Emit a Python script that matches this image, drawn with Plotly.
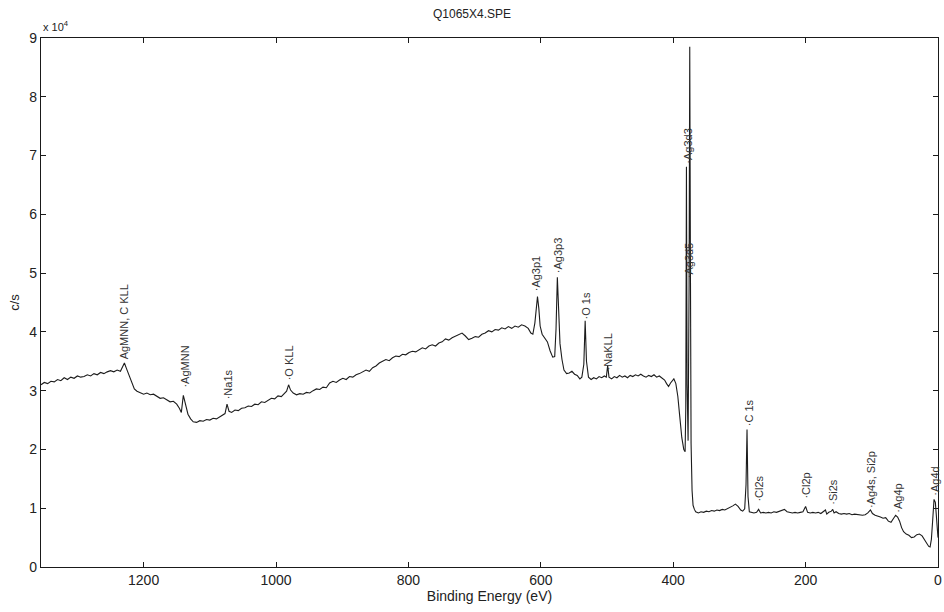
import plotly.graph_objects as go

# ---- XPS survey spectrum, binding energy (eV) vs counts per second ----

# High binding-energy region: Auger features, Na 1s, O KLL
be_auger = [
    1355, 1350, 1345, 1340, 1335, 1330, 1325, 1320, 1315, 1310,
    1305, 1300, 1295, 1290, 1285, 1280, 1275, 1270, 1265, 1260,
    1255, 1250, 1245, 1240, 1235, 1232, 1229, 1226, 1222, 1218,
    1214, 1210, 1205, 1200, 1195, 1190, 1185, 1180, 1175, 1170,
    1165, 1160, 1155, 1150, 1146, 1143, 1140, 1137, 1133, 1129,
    1125, 1120, 1115, 1110, 1105, 1100, 1095, 1090, 1085, 1080,
    1077, 1074, 1071, 1067, 1062, 1057, 1052, 1047, 1042, 1037,
    1032, 1027, 1022, 1017, 1012, 1007, 1002, 997, 992, 987,
    984, 981, 978, 974, 969, 964, 959, 954, 949, 944,
    939, 934, 929, 924,
]
cps_auger = [
    31000, 31400, 31200, 31600, 31500, 31900, 31700, 32200, 31900, 32300,
    32100, 32500, 32300, 32400, 32700, 32500, 32900, 32700, 33100, 32900,
    33200, 33400, 33200, 33500, 33300, 33900, 34700, 33800, 32600, 31300,
    30300, 29900, 29700, 29400, 29600, 29300, 29400, 29000, 28700, 28800,
    28400, 28100, 28200, 27700, 27000, 26300, 29200, 27600, 26000, 25200,
    24700, 24600, 24900, 24800, 25100, 25000, 25300, 25200, 25600, 25900,
    26100, 27700, 26500, 26300, 26700, 26600, 27000, 27100, 27400, 27300,
    27700, 27600, 28100, 28000, 28400, 28700, 28600, 29100, 29000, 29500,
    29900, 31000, 30100, 29600, 29300, 29500, 29400, 29700, 29600, 30000,
    30300, 30200, 30600, 30500,
]

# Rising background, Ag 3p doublet, O 1s, Na KLL
be_ag3p = [
    919, 914, 909, 904, 899, 894, 889, 884, 879, 874,
    869, 864, 859, 854, 849, 844, 839, 834, 829, 824,
    819, 814, 809, 804, 799, 794, 789, 784, 779, 774,
    769, 764, 759, 754, 749, 744, 739, 734, 729, 724,
    719, 714, 709, 704, 699, 694, 689, 684, 679, 674,
    669, 664, 659, 654, 649, 644, 639, 634, 629, 624,
    619, 615, 612, 609, 607, 605, 603, 601, 598, 594,
    590, 586, 582, 579, 577, 575, 573, 571, 568, 565,
    561, 557, 553, 549, 545, 541, 538, 535, 533, 531,
    528, 524, 520, 516, 512, 508, 504, 501, 499, 497,
    493, 489, 485, 481, 477, 473, 469, 465, 461, 457,
    453, 449, 445, 441, 437, 433, 429, 425, 421, 417,
]
cps_ag3p = [
    31300, 31600, 31400, 31800, 32100, 31900, 32400, 32300, 32700, 32900,
    33200, 33500, 33300, 33900, 34200, 34700, 35000, 35300, 35100, 35600,
    35900, 35800, 36200, 36100, 36500, 36700, 36600, 37000, 37300, 37100,
    37600, 37800, 37600, 38100, 38300, 38800, 38600, 39000, 39300, 39600,
    39800, 39300, 38700, 38900, 39200, 39100, 39600, 39800, 40200, 40000,
    40400, 40300, 40700, 40500, 40900, 40600, 41000, 40800, 41200, 41000,
    40600, 39800, 39600, 41500, 44500, 46000, 44000, 41000, 39600, 39000,
    38300, 36800, 35700, 35800, 40500, 49300, 44000, 38000, 35300, 33500,
    32900, 33000, 33300, 32800, 32600, 32000, 32300, 34500, 41900, 35000,
    32300, 31900, 32200, 32000, 32400, 32200, 32500, 32300, 34300, 32300,
    32000, 32400, 32200, 32600, 32300, 32500, 32200, 32600, 32400, 32700,
    32500, 32800, 32500, 32300, 32600, 32400, 32700, 32300, 32500, 32200,
]

# Ag 3d doublet
be_ag3d = [
    413, 410, 407, 404, 401, 399, 396, 393, 390, 387,
    384, 382, 381, 380, 379, 377.5, 376, 375, 374, 373,
    371.5, 370, 368, 366,
]
cps_ag3d = [
    31800, 31200, 30700, 31300, 31800, 32000, 31200, 29000, 25500, 22000,
    20000, 19600, 27000, 68100, 31000, 21500, 48000, 88500, 52000, 21000,
    13000, 10500, 9800, 9400,
]

# Low binding-energy region: C 1s, Cl, Si, Ag 4s/4p/4d
be_core = [
    362, 358, 354, 350, 346, 342, 338, 334, 330, 326,
    322, 318, 314, 310, 306, 302, 298, 295, 292, 290,
    288.5, 287, 285, 282, 278, 274, 271, 268, 264, 260,
    256, 252, 248, 244, 240, 236, 232, 228, 224, 220,
    216, 212, 208, 204, 200, 197, 193, 189, 185, 181,
    177, 173, 170, 168, 165, 161, 159, 157, 154, 150,
    146, 142, 138, 134, 130, 126, 122, 118, 114, 110,
    106, 102, 99, 95, 91, 87, 83, 79, 75, 71,
    67, 64, 61, 58, 55, 52, 48, 44, 40, 36,
    32, 28, 24, 20, 17, 14, 12, 10, 8, 6,
    4, 2, 0,
]
cps_core = [
    9200, 9400, 9300, 9500, 9400, 9600, 9500, 9700, 9600, 9800,
    9700, 9900, 10100, 10400, 10700, 10300, 9700, 9500, 9900, 14000,
    23400, 12000, 9400, 9300, 9200, 9300, 9800, 9200, 9300, 9200,
    9300, 9200, 9400, 9300, 9500, 9700, 9800, 9400, 9300, 9200,
    9300, 9200, 9300, 9400, 10300, 9300, 9200, 9300, 9200, 9300,
    9100, 9400, 9700, 9000, 9300, 9500, 9800, 9200, 9400, 9100,
    9000, 9100, 9000, 9100, 8900, 9000, 8900, 8900, 8800, 8900,
    9200, 9700, 9100, 8800, 8700, 8500, 8300, 8400, 7800, 7600,
    8300, 8800, 8500, 7800, 6700, 6000, 5600, 5400, 5000, 5100,
    5500, 5600, 5300, 4500, 3900, 3500, 3400, 4700, 8000, 11500,
    11000, 8000, 5000,
]

binding_energy = be_auger + be_ag3p + be_ag3d + be_core
counts = cps_auger + cps_ag3p + cps_ag3d + cps_core

# Peak identifications: name, energy, and where the rotated label starts
peak_names = [
    "AgMNN, C KLL", "\u00b7AgMNN", "\u00b7Na1s", "\u00b7O KLL",
    "\u00b7Ag3p1", "\u00b7Ag3p3", "\u00b7O 1s", "\u00b7NaKLL",
    "\u00b7Ag3d3", "\u00b7Ag3d5", "\u00b7C 1s", "\u00b7Cl2s",
    "\u00b7Cl2p", "\u00b7Si2s", "\u00b7Ag4s, Si2p", "\u00b7Ag4p", "\u00b7Ag4d",
]
peak_be = [1230, 1138, 1073, 981, 606, 575, 532, 499,
           378, 375, 286, 270, 200, 158, 101, 61, 5]
label_base = [35200, 30300, 28300, 31600, 46800, 49800, 42000, 33300,
              68500, 49000, 23800, 11000, 11400, 10500, 9800, 9100, 12000]

x_ticks = [1200, 1000, 800, 600, 400, 200, 0]
y_ticks = [0, 10000, 20000, 30000, 40000, 50000, 60000, 70000, 80000, 90000]
y_tick_text = ["0", "1", "2", "3", "4", "5", "6", "7", "8", "9"]

FONT = "Liberation Sans, Arial, Helvetica, sans-serif"

fig = go.Figure()
fig.add_trace(go.Scatter(
    x=binding_energy, y=counts, mode="lines",
    line=dict(color="#1c1c1c", width=1.1),
    showlegend=False, hoverinfo="x+y",
))

annotations = []
for name, xb, yb in zip(peak_names, peak_be, label_base):
    annotations.append(dict(
        x=xb, y=yb, xref="x", yref="y", text=name, textangle=-90,
        xanchor="center", yanchor="bottom", showarrow=False,
        font=dict(family=FONT, size=11, color="#333333"), borderpad=0,
    ))

# axis multiplier above the y axis
annotations.append(dict(
    x=0, y=1, xref="paper", yref="paper", text="x 10<sup>4</sup>",
    xanchor="left", yanchor="bottom", yshift=3, showarrow=False,
    font=dict(family=FONT, size=11, color="#222222"),
))

fig.update_layout(
    width=944, height=612,
    margin=dict(l=41, r=6, t=38, b=45, autoexpand=False),
    paper_bgcolor="white", plot_bgcolor="white",
    font=dict(family=FONT, size=13, color="#222222"),
    title=dict(text="Q1065X4.SPE", x=0.5, xanchor="center", y=0.985,
               yanchor="top", font=dict(family=FONT, size=12, color="#222222")),
    annotations=annotations,
)

axis_style = dict(
    showline=True, linecolor="#1a1a1a", linewidth=1.3, mirror="ticks",
    ticks="inside", ticklen=5, tickwidth=1.3, tickcolor="#1a1a1a",
    showgrid=False, zeroline=False, automargin=False,
    tickfont=dict(family=FONT, size=14, color="#222222"),
)

fig.update_xaxes(
    range=[1355, 0], tickmode="array", tickvals=x_ticks,
    title=dict(text="Binding Energy (eV)", standoff=4,
               font=dict(family=FONT, size=14, color="#222222")),
    **axis_style,
)
fig.update_yaxes(
    range=[0, 90000], tickmode="array", tickvals=y_ticks, ticktext=y_tick_text,
    title=dict(text="c/s", standoff=6,
               font=dict(family=FONT, size=13, color="#222222")),
    **axis_style,
)

fig.write_html("out.html")
